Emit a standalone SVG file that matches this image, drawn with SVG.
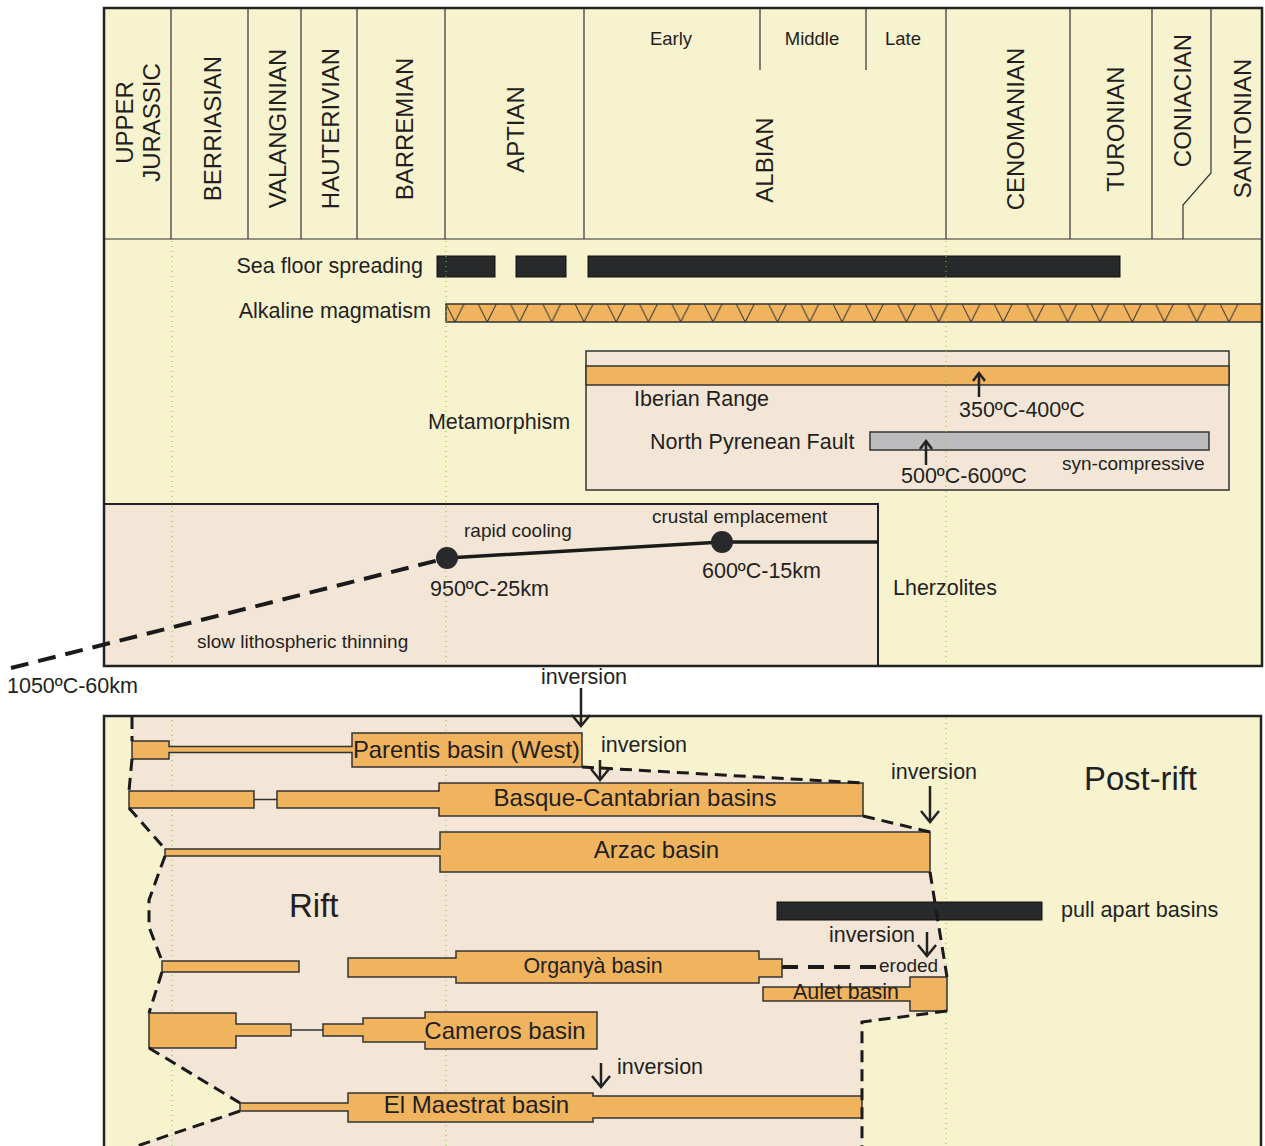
<svg xmlns="http://www.w3.org/2000/svg" width="1265" height="1146" viewBox="0 0 1265 1146">
<defs>
<style>
text{font-family:"Liberation Sans",Arial,sans-serif;fill:#231f20}
.hdr{font-size:24px;text-anchor:middle}
.sub{font-size:18.5px;text-anchor:middle}
.lbl{font-size:21.5px}
.sm{font-size:19px}
.bl{text-anchor:middle}
.col{stroke:#333;stroke-width:1.2;fill:none}
.frame{fill:none;stroke:#222;stroke-width:2.5}
.basin{fill:#f0b45f;stroke:#333;stroke-width:1.5}
.bar{fill:#28292b;stroke:#111;stroke-width:1}
.dash{fill:none;stroke:#1a1a1a;stroke-width:3;stroke-dasharray:12 7}
.arrow{fill:none;stroke:#222;stroke-width:2.5}
.guide{stroke:#74cf2c;stroke-width:1;stroke-dasharray:1 4}
</style>
<marker id="ah" markerUnits="userSpaceOnUse" markerWidth="26" markerHeight="26" viewBox="-13 -13 26 26" refX="0" refY="0" orient="auto">
<path d="M-11,-9 L0,0 L-11,9" fill="none" stroke="#222" stroke-width="2.5"/>
</marker>
<marker id="ahs" markerUnits="userSpaceOnUse" markerWidth="20" markerHeight="20" viewBox="-10 -10 20 20" refX="0" refY="0" orient="auto">
<path d="M-8,-6 L0,0 L-8,6" fill="none" stroke="#222" stroke-width="2.5"/>
</marker>
<pattern id="vpat" patternUnits="userSpaceOnUse" x="446" y="304" width="32.25" height="18">
<path d="M0,0 L9,18 L18,0" fill="none" stroke="#333" stroke-width="1"/>
</pattern>
</defs>

<!-- ===== TOP CHART ===== -->
<g id="top-background">
<rect x="104" y="8" width="1158" height="658" fill="#f7f3cf"/>
</g>

<g id="stage-header">
<line class="col" x1="104" y1="239" x2="1262" y2="239"/>
<line class="col" x1="171" y1="8" x2="171" y2="239"/>
<line class="col" x1="248" y1="8" x2="248" y2="239"/>
<line class="col" x1="301" y1="8" x2="301" y2="239"/>
<line class="col" x1="357" y1="8" x2="357" y2="239"/>
<line class="col" x1="445" y1="8" x2="445" y2="239"/>
<line class="col" x1="584" y1="8" x2="584" y2="239"/>
<line class="col" x1="946" y1="8" x2="946" y2="239"/>
<line class="col" x1="1070" y1="8" x2="1070" y2="239"/>
<line class="col" x1="1152" y1="8" x2="1152" y2="239"/>
<polyline class="col" points="1211,8 1211,173 1183,205 1183,239"/>
<line class="col" x1="760" y1="8" x2="760" y2="70"/>
<line class="col" x1="866" y1="8" x2="866" y2="70"/>
<text class="hdr" transform="translate(133,122.5) rotate(-90)">UPPER</text>
<text class="hdr" transform="translate(160,122.5) rotate(-90)">JURASSIC</text>
<text class="hdr" transform="translate(221,128.5) rotate(-90)">BERRIASIAN</text>
<text class="hdr" transform="translate(286,128.5) rotate(-90)">VALANGINIAN</text>
<text class="hdr" transform="translate(339,128.5) rotate(-90)">HAUTERIVIAN</text>
<text class="hdr" transform="translate(413,129) rotate(-90)">BARREMIAN</text>
<text class="hdr" transform="translate(524,129.5) rotate(-90)">APTIAN</text>
<text class="hdr" transform="translate(773,160) rotate(-90)">ALBIAN</text>
<text class="hdr" transform="translate(1024,129) rotate(-90)">CENOMANIAN</text>
<text class="hdr" transform="translate(1124,129) rotate(-90)">TURONIAN</text>
<text class="hdr" transform="translate(1191,100.5) rotate(-90)">CONIACIAN</text>
<text class="hdr" transform="translate(1251,128.5) rotate(-90)">SANTONIAN</text>
<text class="sub" x="671" y="45">Early</text>
<text class="sub" x="812" y="45">Middle</text>
<text class="sub" x="903" y="45">Late</text>
</g>

<g id="sea-floor-spreading">
<text class="lbl" x="423" y="273" text-anchor="end">Sea floor spreading</text>
<rect class="bar" x="437" y="256" width="58" height="21"/>
<rect class="bar" x="516" y="256" width="50" height="21"/>
<rect class="bar" x="588" y="256" width="532" height="21"/>
</g>

<g id="alkaline-magmatism">
<text class="lbl" x="431" y="318" text-anchor="end">Alkaline magmatism</text>
<rect x="446" y="304" width="816" height="18" fill="#f0b45f" stroke="#333" stroke-width="1.5"/>
<rect x="446" y="304" width="796" height="18" fill="url(#vpat)"/>
</g>

<g id="metamorphism">
<text x="499" y="429" font-size="21.5" text-anchor="middle">Metamorphism</text>
<rect x="586" y="351" width="643" height="139" fill="#f4e6d6" stroke="#333" stroke-width="1.5"/>
<rect x="586" y="366" width="643" height="19" fill="#f0b45f" stroke="#333" stroke-width="1.5"/>
<text class="lbl" x="634" y="406">Iberian Range</text>
<text class="lbl" x="959" y="417">350ºC-400ºC</text>
<text class="lbl" x="650" y="449">North Pyrenean Fault</text>
<rect x="870" y="432" width="339" height="18" fill="#bcbcbe" stroke="#333" stroke-width="1.5"/>
<text class="lbl" x="901" y="483">500ºC-600ºC</text>
<text class="sm" x="1062" y="470">syn-compressive</text>
</g>

<g id="lherzolites">
<rect x="104" y="504" width="774" height="162" fill="#f4e6d6" stroke="#222" stroke-width="2"/>
<text class="lbl" x="893" y="595">Lherzolites</text>
<text class="sm" x="652" y="523">crustal emplacement</text>
<text class="sm" x="464" y="537">rapid cooling</text>
<text class="lbl" x="702" y="578">600ºC-15km</text>
<text class="lbl" x="430" y="596">950ºC-25km</text>
<text class="sm" x="197" y="648">slow lithospheric thinning</text>
<text class="lbl" x="7" y="693">1050ºC-60km</text>
</g>

<g id="top-guides">
<line class="guide" x1="172" y1="241" x2="172" y2="664"/>
<line class="guide" x1="446" y1="241" x2="446" y2="664"/>
<line class="guide" x1="946" y1="241" x2="946" y2="664"/>
</g>

<rect id="top-frame" class="frame" x="104" y="8" width="1158" height="658"/>

<!-- ===== BOTTOM CHART ===== -->
<g id="bottom-background">
<rect x="104" y="716" width="1157" height="440" fill="#f7f3cf"/>
<polygon fill="#f4e6d6" points="132,717 582,717 582,767 863,783 863,816 930,832 930,872 947,977 947,1011 862,1022 862,1146 137,1146 240,1111 240,1103 149,1048 149,1013 162,972 162,961 149,927 149,900 165,856 165,849 129,808 129,791 132,759 132,741"/>
</g>

<g id="bottom-guides">
<line class="guide" x1="172" y1="720" x2="172" y2="1146"/>
<line class="guide" x1="446" y1="720" x2="446" y2="1146"/>
<line class="guide" x1="946" y1="718" x2="946" y2="1146"/>
</g>

<g id="labels-bottom">
<text x="289" y="917" font-size="33">Rift</text>
<text x="1084" y="790" font-size="32.8">Post-rift</text>
</g>

<g id="parentis-basin">
<polygon class="basin" points="132,741 169,741 169,746.5 352,746.5 352,733 582,733 582,767 352,767 352,752.5 169,752.5 169,759 132,759"/>
<text class="bl" x="466.5" y="758" font-size="23.8">Parentis basin (West)</text>
</g>

<g id="basque-cantabrian-basins">
<rect class="basin" x="129" y="791" width="125" height="17"/>
<line x1="254" y1="799.5" x2="277" y2="799.5" stroke="#333" stroke-width="1.5"/>
<polygon class="basin" points="277,791 439,791 439,783 863,783 863,816 439,816 439,808 277,808"/>
<text class="bl" x="635" y="806" font-size="24">Basque-Cantabrian basins</text>
</g>

<g id="arzac-basin">
<polygon class="basin" points="165,849 440,849 440,832 930,832 930,872 440,872 440,856 165,856"/>
<text class="bl" x="656.5" y="858" font-size="24">Arzac basin</text>
</g>

<g id="pull-apart-basins">
<rect class="bar" x="777" y="902" width="265" height="18"/>
<text x="1061" y="917" font-size="21.6">pull apart basins</text>
</g>

<g id="organya-basin">
<rect class="basin" x="162" y="961" width="137" height="11"/>
<polygon class="basin" points="348,958 456,958 456,951 759,951 759,959 782,959 782,977 759,977 759,983 456,983 456,977 348,977"/>
<text class="bl" x="593" y="973" font-size="21.4">Organyà basin</text>
<text x="879" y="972" font-size="19">eroded</text>
</g>

<g id="aulet-basin">
<polygon class="basin" points="763,987 910,987 910,977 947,977 947,1011 910,1011 910,1001 763,1001"/>
<text class="bl" x="846" y="999" font-size="21.4">Aulet basin</text>
</g>

<g id="cameros-basin">
<polygon class="basin" points="149,1013 236,1013 236,1024 291,1024 291,1036 236,1036 236,1048 149,1048"/>
<line x1="291" y1="1030" x2="323" y2="1030" stroke="#333" stroke-width="1.5"/>
<polygon class="basin" points="323,1024 363,1024 363,1018 425,1018 425,1012 597,1012 597,1049 425,1049 425,1042 363,1042 363,1036 323,1036"/>
<text class="bl" x="505" y="1039" font-size="24">Cameros basin</text>
</g>

<g id="el-maestrat-basin">
<polygon class="basin" points="240,1103 348,1103 348,1093 593,1093 593,1096 862,1096 862,1118 593,1118 593,1122 348,1122 348,1111 240,1111"/>
<text class="bl" x="476.5" y="1113" font-size="24">El Maestrat basin</text>
</g>

<g id="inversion-labels">
<text class="lbl" x="541" y="684">inversion</text>
<text class="lbl" x="601" y="752">inversion</text>
<text class="lbl" x="891" y="779">inversion</text>
<text class="lbl" x="829" y="942">inversion</text>
<text class="lbl" x="617" y="1074">inversion</text>
</g>

<rect id="bottom-frame" class="frame" x="104" y="716" width="1157" height="440"/>

<!-- ===== CONNECTORS ===== -->
<g id="connectors">
<line x1="11" y1="668" x2="447" y2="558" stroke="#1a1a1a" stroke-width="4" stroke-dasharray="18 10"/>
<polyline points="447,558 722,542 878,542" fill="none" stroke="#1a1a1a" stroke-width="3.5"/>
<circle cx="447" cy="558" r="11" fill="#28292b"/>
<circle cx="722" cy="542" r="11" fill="#28292b"/>
<line class="arrow" x1="979" y1="397" x2="979" y2="373" marker-end="url(#ahs)"/>
<line class="arrow" x1="926" y1="465" x2="926" y2="441" marker-end="url(#ahs)"/>
<polyline class="dash" points="132,717 132,741"/>
<polyline class="dash" points="132,759 129,791"/>
<polyline class="dash" points="129,808 165,849"/>
<polyline class="dash" points="165,856 149,900 149,927 162,961"/>
<polyline class="dash" points="162,972 149,1013"/>
<polyline class="dash" points="149,1048 240,1103"/>
<polyline class="dash" points="240,1111 137,1146"/>
<polyline class="dash" points="582,767 863,783"/>
<polyline class="dash" points="863,816 930,832"/>
<polyline class="dash" points="930,872 947,977"/>
<polyline class="dash" points="947,1011 862,1022 862,1146"/>
<line x1="782" y1="967" x2="876" y2="967" stroke="#1a1a1a" stroke-width="4" stroke-dasharray="16 10"/>
<line class="arrow" x1="581" y1="688" x2="581" y2="726" marker-end="url(#ah)"/>
<line class="arrow" x1="600" y1="760" x2="600" y2="780" marker-end="url(#ah)"/>
<line class="arrow" x1="930" y1="786" x2="930" y2="822" marker-end="url(#ah)"/>
<line class="arrow" x1="927" y1="932" x2="927" y2="956" marker-end="url(#ah)"/>
<line class="arrow" x1="601" y1="1063" x2="601" y2="1087" marker-end="url(#ah)"/>
</g>
</svg>
